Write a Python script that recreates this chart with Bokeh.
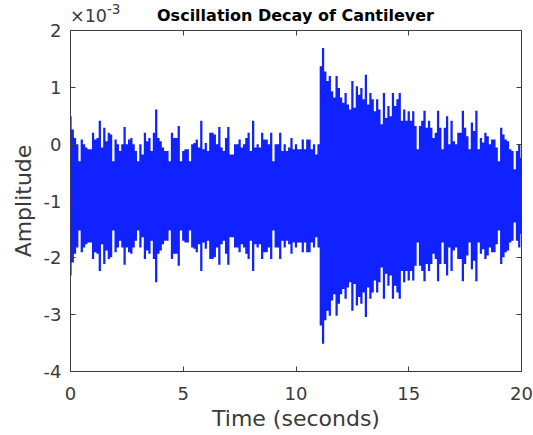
import numpy as np
from bokeh.plotting import figure
from bokeh.models import Range1d, FixedTicker, LinearAxis, Div
from bokeh.layouts import column
from bokeh.embed import file_html
from bokeh.resources import INLINE

# ---- data (amplitude in units of 1e-3) ----
sample_step = 0.1  # seconds between envelope samples
center_level = -0.91  # mean level of the oscillation (x1e-3)
amplitude = [
    1.40, 1.17, 1.02, 0.91, 0.61, 0.99, 0.91, 0.85, 0.82, 0.82,
    1.11, 0.99, 1.02, 1.32, 0.85, 1.20, 0.96, 1.11, 1.08, 0.61,
    0.99, 0.91, 0.79, 0.91, 1.21, 0.91, 0.99, 1.02, 0.91, 0.79,
    0.61, 0.91, 0.73, 1.11, 0.96, 1.02, 0.79, 1.11, 1.52, 1.02,
    0.96, 0.85, 0.79, 0.79, 0.61, 1.11, 1.02, 1.02, 1.23, 0.61,
    0.79,
    0.82, 0.82, 0.61, 0.91, 0.93, 0.99, 0.85, 1.32, 0.82, 0.93,
    0.79, 1.11, 1.11, 1.08, 0.91, 1.21, 0.85, 0.79, 1.02, 1.21,
    0.73, 0.73, 0.91, 0.91, 0.99, 0.85, 0.91, 1.02, 1.11, 0.79,
    1.32, 0.85, 0.91, 0.85, 1.11, 0.99, 0.99, 0.91, 1.11, 0.61,
    0.91, 0.91, 1.11, 0.79, 0.91, 0.79, 0.85, 1.02, 0.82, 0.91,
    0.82, 0.82, 0.99, 0.82, 0.99, 0.99, 0.82, 0.91, 0.73, 0.91,
    2.28, 2.60, 2.19, 2.02, 2.11, 1.84, 1.73, 2.11, 1.90, 1.73,
    1.64, 1.81, 1.61, 1.52, 2.02, 1.55, 1.93, 1.78, 1.90, 1.70,
    2.13, 1.61, 1.81, 1.70, 1.49, 1.70, 1.52, 1.26, 1.81, 1.37,
    1.58, 1.40, 1.81, 1.58, 1.70, 1.81, 1.32, 1.52, 1.32, 1.49,
    1.32, 1.49, 1.23, 0.82, 1.23, 1.32, 1.50, 1.20, 1.32, 1.20,
    1.02, 1.11, 1.50, 1.20, 0.82, 1.20, 1.40, 0.91, 1.32, 0.96,
    0.91, 1.11, 1.11, 1.50, 1.20, 1.05, 0.82, 1.29, 1.14, 1.50,
    0.82, 1.02, 0.94, 1.11, 1.05, 0.91, 0.99, 0.99, 0.85, 0.61,
    1.20, 1.08, 0.99, 0.96, 0.82, 0.79, 0.47, 0.79, 0.91, 0.67,
]
x_ticks = [0, 5, 10, 15, 20]
x_tick_labels = ["0", "5", "10", "15", "20"]
y_ticks = [-4, -3, -2, -1, 0, 1, 2]
y_tick_labels = ["-4", "-3", "-2", "-1", "0", "1", "2"]
title_text = "Oscillation Decay of Cantilever"
exponent_base = "×10"
exponent_power = "-3"

time_s = np.round(np.arange(len(amplitude)) * sample_step, 2)
amp = np.array(amplitude)
upper = center_level + amp
lower = center_level - amp

FONT = "DejaVu Sans"
TXT = "#3a3a3a"
BLUE = "#0f22ff"
PAGE_W = 533
HEADER_H = 26      # height of the header strip holding title and exponent
OVERLAP = 10       # figure canvas slides up under the header by this much
FIG_TOP = HEADER_H - OVERLAP
FRAME_LEFT = 70
FRAME_RIGHT = 521
FRAME_TOP = 30
FRAME_BOTTOM = 372
PAGE_BOTTOM = 433

header_html = (
    '<div style="position:relative;width:%dpx;height:%dpx;'
    'font-family:\'DejaVu Sans\';">' % (PAGE_W, HEADER_H) +
    '<span style="position:absolute;left:70px;top:8px;font-size:17.5px;'
    'line-height:1;color:%s;white-space:nowrap;">%s</span>' % (TXT, exponent_base) +
    '<span style="position:absolute;left:107px;top:3px;font-size:13.5px;'
    'line-height:1;color:%s;white-space:nowrap;">%s</span>' % (TXT, exponent_power) +
    '<span style="position:absolute;left:70px;width:451px;top:8px;'
    'text-align:center;font-size:16px;font-weight:bold;line-height:1;'
    'color:#000;white-space:nowrap;">%s</span>' % title_text +
    '</div>'
)
header = Div(text=header_html, width=PAGE_W, height=HEADER_H,
             margin=(0, 0, 0, 0), styles={"overflow": "visible"})

fig_h = PAGE_BOTTOM - FIG_TOP
p = figure(width=PAGE_W, height=fig_h, output_backend="svg",
           toolbar_location=None,
           x_range=Range1d(0, 20), y_range=Range1d(-4, 2),
           min_border_left=FRAME_LEFT, min_border_right=PAGE_W - FRAME_RIGHT,
           min_border_top=FRAME_TOP - FIG_TOP,
           min_border_bottom=fig_h - (FRAME_BOTTOM - FIG_TOP),
           background_fill_color="white", border_fill_color=None,
           margin=(-OVERLAP, 0, 0, 0))
p.grid.visible = False
p.outline_line_color = "#3c3c3c"
p.outline_line_width = 1

p.varea_step(x=time_s, y1=lower, y2=upper, step_mode="center",
             fill_color=BLUE)

def style_axis(ax, ticks, labels, show_labels=True):
    ax.ticker = FixedTicker(ticks=ticks)
    ax.major_tick_in = 5
    ax.major_tick_out = 0
    ax.minor_tick_line_color = None
    ax.major_tick_line_color = "#3c3c3c"
    ax.axis_line_color = None
    if show_labels:
        ax.major_label_overrides = {t: l for t, l in zip(ticks, labels)}
        ax.major_label_text_font = FONT
        ax.major_label_text_font_size = "18px"
        ax.major_label_text_color = TXT
    else:
        ax.major_label_text_font_size = "1px"
        ax.major_label_text_color = None
        ax.major_label_standoff = 0

style_axis(p.xaxis[0], x_ticks, x_tick_labels)
style_axis(p.yaxis[0], y_ticks, y_tick_labels)
p.xaxis[0].major_label_standoff = 15
p.yaxis[0].major_label_standoff = 9

p.xaxis[0].axis_label = "Time (seconds)"
p.yaxis[0].axis_label = "Amplitude"
for ax in (p.xaxis[0], p.yaxis[0]):
    ax.axis_label_text_font = FONT
    ax.axis_label_text_font_size = "22px"
    ax.axis_label_text_font_style = "normal"
    ax.axis_label_text_color = TXT
p.xaxis[0].axis_label_standoff = 3
p.yaxis[0].axis_label_standoff = 5

top_ax = LinearAxis()
style_axis(top_ax, x_ticks, x_tick_labels, show_labels=False)
p.add_layout(top_ax, "above")
right_ax = LinearAxis()
style_axis(right_ax, y_ticks, y_tick_labels, show_labels=False)
p.add_layout(right_ax, "right")

layout = column(header, p, spacing=0, margin=(0, 0, 0, 0))
open("out.html", "w").write(file_html(layout, INLINE))
